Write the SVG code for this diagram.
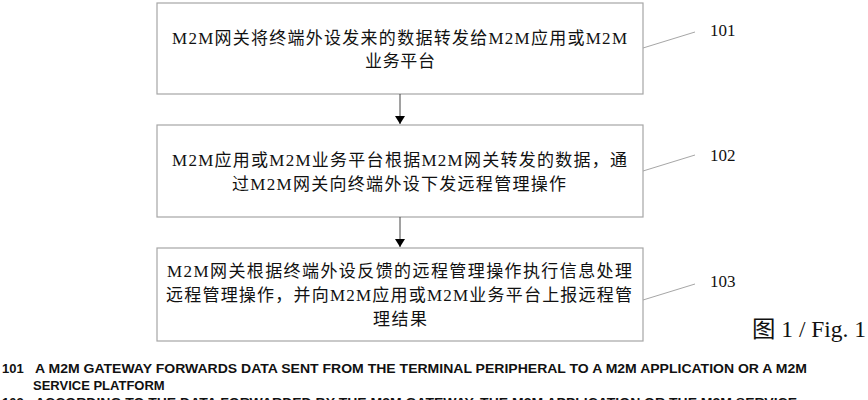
<svg xmlns="http://www.w3.org/2000/svg" width="868" height="400" viewBox="0 0 868 400">
<defs>
<style>
.box{fill:#fff;stroke:#a6a6a6;stroke-width:1.2}
.t{font-family:"Liberation Serif","Noto Sans CJK SC",serif;font-size:17px;fill:#111}
.lbl{font-family:"Liberation Serif",serif;font-size:17px;fill:#111}
.lead{stroke:#a6a6a6;stroke-width:1;fill:none}
.arr{stroke:#444;stroke-width:1;fill:none}
.cap{font-family:"Liberation Sans",Arial,sans-serif;font-size:13px;font-weight:bold;fill:#111}
</style>
<marker id="ah" markerWidth="8" markerHeight="10" refX="8" refY="5" orient="auto" markerUnits="userSpaceOnUse">
<path d="M0,0 L8,5 L0,10 Z" fill="#000"/>
</marker>
</defs>
<rect width="868" height="400" fill="#fff"/>

<g id="node101">
<rect class="box" x="157" y="3" width="486" height="91"/>
<text class="t" x="172" y="44" textLength="455" lengthAdjust="spacing">M2M网关将终端外设发来的数据转发给M2M应用或M2M</text>
<text class="t" x="365" y="67" textLength="70" lengthAdjust="spacing">业务平台</text>
</g>

<g id="node102">
<rect class="box" x="157" y="125" width="486" height="92"/>
<text class="t" x="172" y="166" textLength="455" lengthAdjust="spacing">M2M应用或M2M业务平台根据M2M网关转发的数据，通</text>
<text class="t" x="232" y="190" textLength="334" lengthAdjust="spacing">过M2M网关向终端外设下发远程管理操作</text>
</g>

<g id="node103">
<rect class="box" x="157" y="248" width="486" height="93"/>
<text class="t" x="167" y="277" textLength="465" lengthAdjust="spacing">M2M网关根据终端外设反馈的远程管理操作执行信息处理</text>
<text class="t" x="166" y="301" textLength="466" lengthAdjust="spacing">远程管理操作，并向M2M应用或M2M业务平台上报远程管</text>
<text class="t" x="373" y="325" textLength="54" lengthAdjust="spacing">理结果</text>
</g>

<g id="connectors">
<line class="arr" x1="400" y1="94" x2="400" y2="124" marker-end="url(#ah)"/>
<line class="arr" x1="400" y1="217" x2="400" y2="247" marker-end="url(#ah)"/>
<line class="lead" x1="643" y1="48" x2="695" y2="32"/>
<line class="lead" x1="643" y1="171" x2="695" y2="155"/>
<line class="lead" x1="643" y1="300" x2="695" y2="284"/>
</g>

<g id="labels">
<text class="lbl" x="710" y="36">101</text>
<text class="lbl" x="710" y="161">102</text>
<text class="lbl" x="710" y="287">103</text>
<text x="752" y="337" textLength="114" lengthAdjust="spacingAndGlyphs" style="font-family:'Liberation Serif','Noto Sans CJK SC',serif;font-size:23px;fill:#111">图 1 / Fig. 1</text>
</g>

<g id="caption">
<text class="cap" x="2" y="373">101</text>
<text class="cap" x="35" y="373" textLength="772" lengthAdjust="spacingAndGlyphs">A M2M GATEWAY FORWARDS DATA SENT FROM THE TERMINAL PERIPHERAL TO A M2M APPLICATION OR A M2M</text>
<text class="cap" x="33" y="390">SERVICE PLATFORM</text>
<text class="cap" x="2" y="407">102</text>
<text class="cap" x="35" y="407" textLength="762" lengthAdjust="spacingAndGlyphs">ACCORDING TO THE DATA FORWARDED BY THE M2M GATEWAY, THE M2M APPLICATION OR THE M2M SERVICE</text>
</g>
</svg>
